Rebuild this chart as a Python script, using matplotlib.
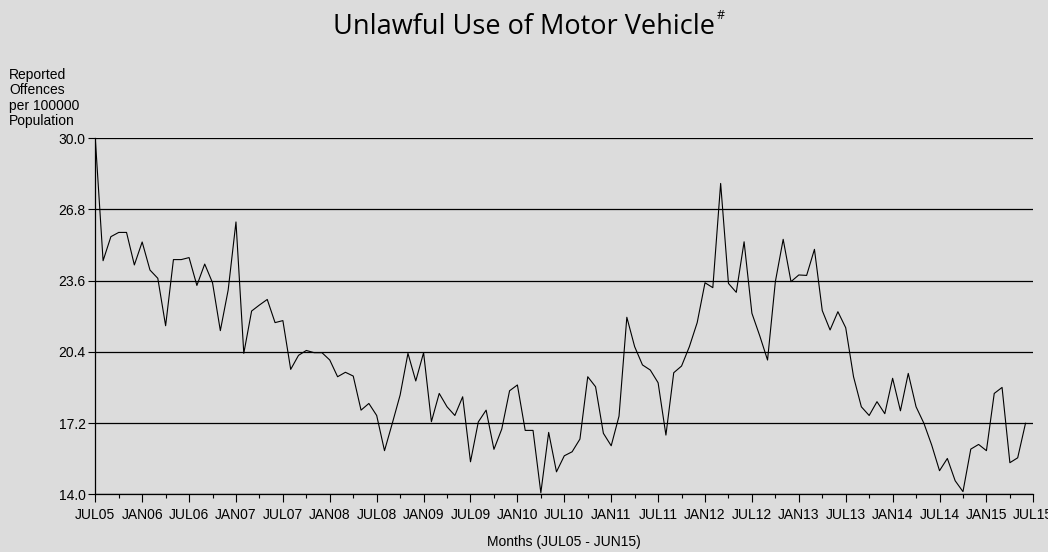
import matplotlib
matplotlib.use("Agg")
import matplotlib.pyplot as plt
import numpy as np

# Monthly rate, JUL05 .. JUN15 (120 months)
rate = [
    30.0, 24.49, 25.57, 25.76, 25.76, 24.30, 25.33, 24.07, 23.70, 21.57,
    24.54, 24.54, 24.63, 23.38, 24.34, 23.50, 21.35, 23.17, 26.23, 20.33,
    22.23, 22.50, 22.75, 21.71, 21.80, 19.61, 20.24, 20.46, 20.36, 20.36,
    20.03, 19.28, 19.48, 19.31, 17.78, 18.08, 17.54, 15.96, 17.19, 18.46,
    20.33, 19.09, 20.36, 17.26, 18.53, 17.93, 17.54, 18.38, 15.46, 17.25,
    17.78, 16.02, 16.93, 18.65, 18.91, 16.87, 16.87, 14.07, 16.78, 15.01,
    15.73, 15.91, 16.48, 19.28, 18.83, 16.74, 16.18, 17.51, 21.95, 20.63,
    19.81, 19.58, 19.01, 16.66, 19.46, 19.76, 20.63, 21.71, 23.50, 23.28,
    27.96, 23.47, 23.07, 25.34, 22.13, 21.12, 20.03, 23.55, 25.45, 23.55,
    23.85, 23.83, 25.00, 22.25, 21.38, 22.20, 21.48, 19.28, 17.93, 17.54,
    18.16, 17.62, 19.21, 17.75, 19.43, 17.93, 17.19, 16.21, 15.06, 15.61,
    14.61, 14.12, 16.03, 16.24, 15.96, 18.53, 18.80, 15.42, 15.64, 17.19,
]

x_labels = [
    "JUL05", "JAN06", "JUL06", "JAN07", "JUL07", "JAN08", "JUL08", "JAN09",
    "JUL09", "JAN10", "JUL10", "JAN11", "JUL11", "JAN12", "JUL12", "JAN13",
    "JUL13", "JAN14", "JUL14", "JAN15", "JUL15",
]
y_ticks = [14.0, 17.2, 20.4, 23.6, 26.8, 30.0]

bg = "#dcdcdc"
plt.rcParams["font.family"] = ["Liberation Sans", "DejaVu Sans"]

fig = plt.figure(figsize=(10.48, 5.52), dpi=100, facecolor=bg)
ax = fig.add_axes([0.0909, 0.1045, 0.8951, 0.6455])
ax.set_facecolor(bg)

months = np.arange(len(rate))
ax.plot(months, rate, color="black", linewidth=0.8)

ax.set_xlim(0, 120)
ax.set_ylim(14.0, 30.0)

# horizontal grid at each y tick
for yv in y_ticks:
    ax.axhline(yv, color="black", linewidth=0.9, zorder=0)

ax.set_yticks(y_ticks)
ax.set_yticklabels([f"{v:.1f}" for v in y_ticks], fontsize=10)
ax.set_xticks(np.arange(0, 121, 6))
ax.set_xticklabels(x_labels, fontsize=10)
ax.set_xticks(np.arange(0, 121, 3), minor=True)
ax.tick_params(axis="x", which="major", length=6, width=0.8, pad=4)
ax.tick_params(axis="x", which="minor", length=3, width=0.8)
ax.tick_params(axis="y", length=5, width=0.8, pad=2)

for side in ("top", "right"):
    ax.spines[side].set_visible(False)
for side in ("left", "bottom"):
    ax.spines[side].set_linewidth(0.9)

ax.set_xlabel("Months (JUL05 - JUN15)", fontsize=10, labelpad=9)

fig.text(0.0086, 0.877, "Reported\nOffences\nper 100000\nPopulation",
         ha="left", va="top", fontsize=10, linespacing=1.12)

# title with a small superscript '#' placed just after it
title = fig.text(0.5, 0.938, "Unlawful Use of Motor Vehicle",
                 ha="center", va="baseline", fontsize=19.5,
                 family=["Open Sans", "DejaVu Sans"])
fig.canvas.draw()
bb = title.get_window_extent().transformed(fig.transFigure.inverted())
fig.text(bb.x1 + 0.002, 0.965, "#", ha="left", va="baseline", fontsize=9,
         family=["Open Sans", "DejaVu Sans"])

fig.savefig("out.png", dpi=100, facecolor=bg)
